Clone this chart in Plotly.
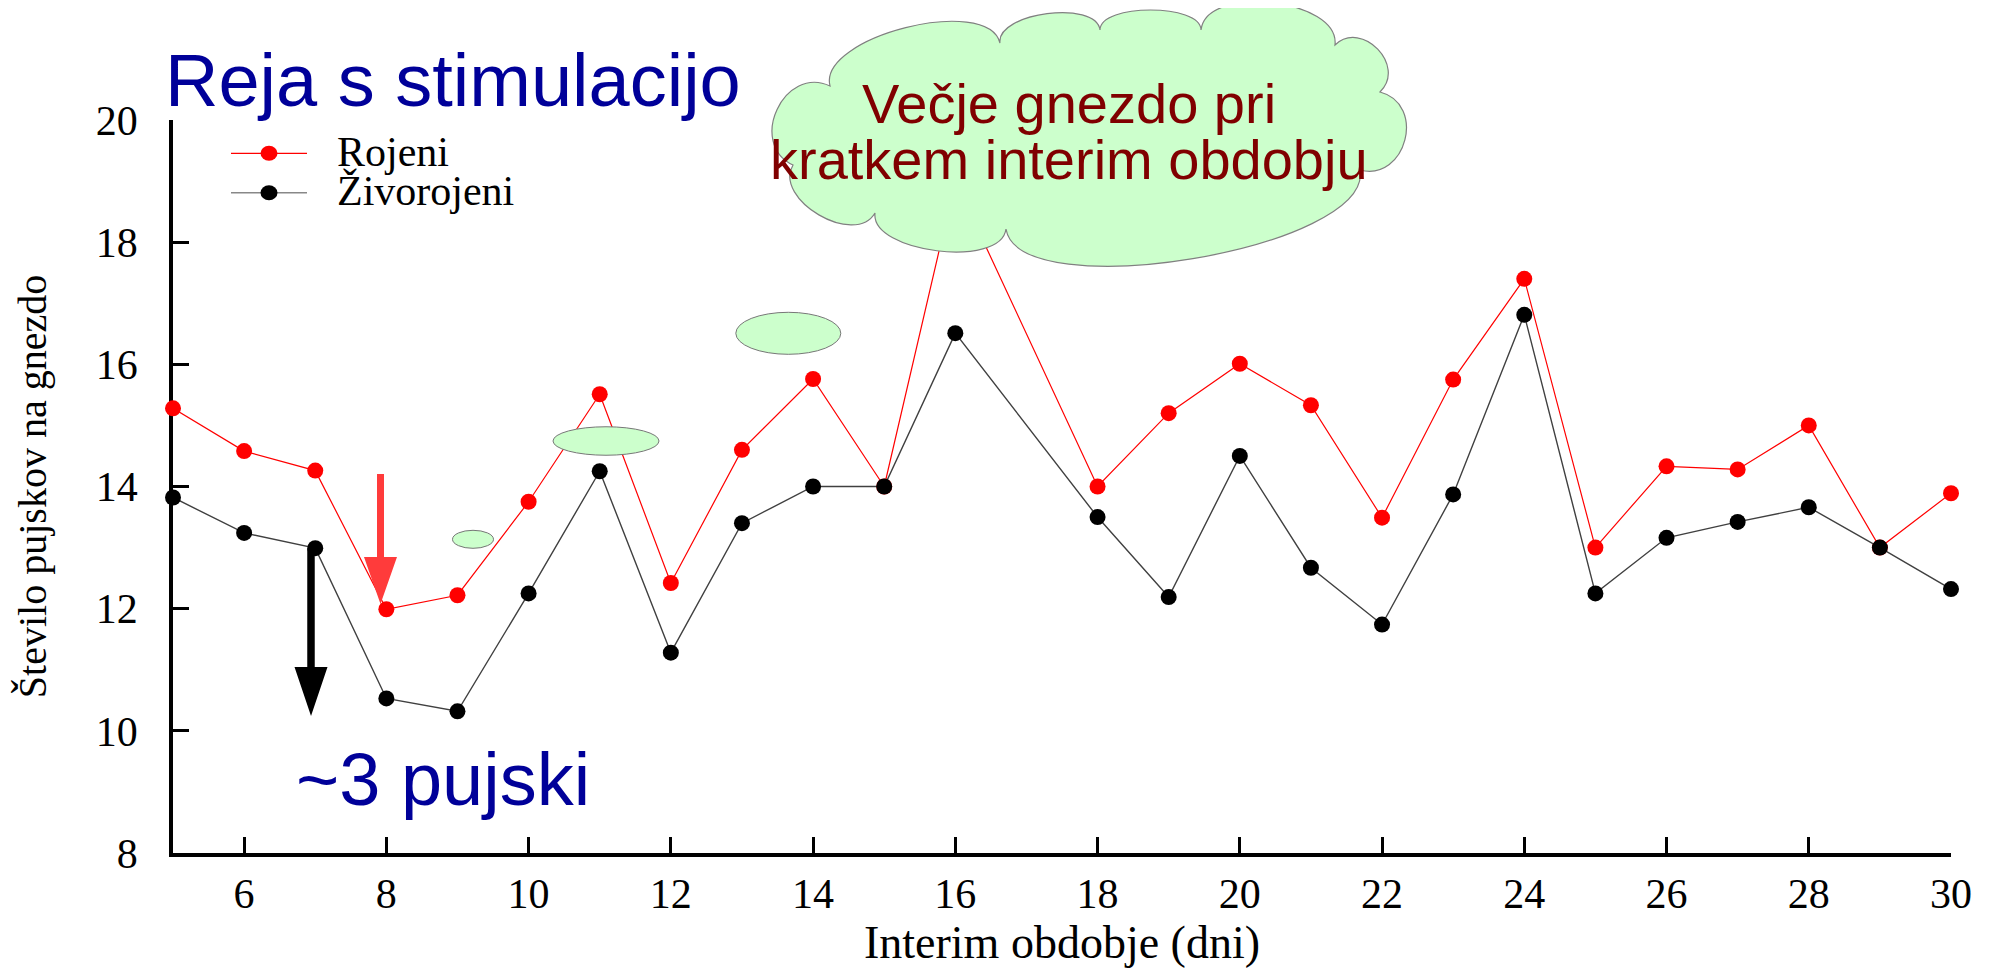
import plotly.graph_objects as go

# ---------------- data ----------------
interim_days = [5, 6, 7, 8, 9, 10, 11, 12, 13, 14, 15, 16, 18, 19, 20, 21, 22, 23, 24, 25, 26, 27, 28, 29, 30]
rojeni = [15.28, 14.58, 14.26, 11.99, 12.22, 13.75, 15.51, 12.42, 14.60, 15.76, 14.00, 19.00, 14.00,
          15.20, 16.01, 15.33, 13.49, 15.75, 17.40, 13.00, 14.33, 14.28, 15.00, 13.00, 13.89]
zivorojeni = [13.82, 13.24, 12.99, 10.53, 10.32, 12.25, 14.25, 11.28, 13.40, 14.00, 14.00, 16.51, 13.50,
              12.19, 14.50, 12.67, 11.74, 13.87, 16.81, 12.25, 13.16, 13.42, 13.66, 13.00, 12.32]
series_names = ["Rojeni", "Živorojeni"]
x_ticks = list(range(6, 31, 2))
y_ticks = list(range(8, 21, 2))

# ---------------- layout geometry ----------------
# page has an 8px body margin; figure sized to fit the 1999x976 window
OFF = 8
W, H = 1983, 960
L, T = 165, 112
PW, PH = 1778, 733
R, B = W - L - PW, H - T - PH


def px(x):
    return (x - OFF - L) / PW


def py(y):
    return (T + PH - (y - OFF)) / PH


SERIF = "Liberation Serif, Times New Roman, serif"
SANS = "Liberation Sans, Arial, sans-serif"

fig = go.Figure()
fig.add_trace(go.Scatter(
    x=interim_days, y=rojeni, mode="lines+markers", name=series_names[0],
    line=dict(color="#ff0000", width=1.2),
    marker=dict(color="#ff0000", size=16), cliponaxis=False, showlegend=False))
fig.add_trace(go.Scatter(
    x=interim_days, y=zivorojeni, mode="lines+markers", name=series_names[1],
    line=dict(color="#404040", width=1.4),
    marker=dict(color="#000000", size=16), cliponaxis=False, showlegend=False))

shapes = []
annotations = []

# ---------------- cloud ----------------
junctions = [(830, 86), (1000, 43), (1100, 30), (1201, 30), (1335, 45), (1380, 92),
             (1360, 170), (1006, 229), (875, 213), (793, 165)]
bulges = [38, 23, 20, 35, 28, 36, 60, 30, 30, 38]
cx, cy = 1090, 135
path = "M %.5f,%.5f" % (px(junctions[0][0]), py(junctions[0][1]))
for i in range(len(junctions)):
    ax_, ay_ = junctions[i]
    bx_, by_ = junctions[(i + 1) % len(junctions)]
    dx, dy = bx_ - ax_, by_ - ay_
    d = (dx * dx + dy * dy) ** 0.5
    nx, ny = -dy / d, dx / d
    mx, my = (ax_ + bx_) / 2, (ay_ + by_) / 2
    if (mx + nx - cx) ** 2 + (my + ny - cy) ** 2 < (mx - cx) ** 2 + (my - cy) ** 2:
        nx, ny = -nx, -ny
    h = bulges[i] / 0.75
    c1 = (ax_ + nx * h, ay_ + ny * h)
    c2 = (bx_ + nx * h, by_ + ny * h)
    path += " C %.5f,%.5f %.5f,%.5f %.5f,%.5f" % (px(c1[0]), py(c1[1]), px(c2[0]), py(c2[1]),
                                                   px(bx_), py(by_))
path += " Z"
shapes.append(dict(type="path", xref="paper", yref="paper", path=path,
                   fillcolor="#ccffcc", line=dict(color="#808080", width=1.2), layer="above"))

# thought bubbles
for (ecx, ecy, ew, eh) in [(473, 539.3, 41, 18), (606, 441, 106, 28.5), (788.3, 333.3, 105, 42)]:
    shapes.append(dict(type="circle", xref="paper", yref="paper",
                       x0=px(ecx - ew / 2), x1=px(ecx + ew / 2),
                       y0=py(ecy + eh / 2), y1=py(ecy - eh / 2),
                       fillcolor="#ccffcc", line=dict(color="#777777", width=1), layer="above"))


# ---------------- arrows ----------------
def arrow_path(xc, ytop, ybase, ytip, shaft_w, head_w):
    p = [(xc - shaft_w / 2, ytop), (xc + shaft_w / 2, ytop), (xc + shaft_w / 2, ybase),
         (xc + head_w / 2, ybase), (xc, ytip), (xc - head_w / 2, ybase), (xc - shaft_w / 2, ybase)]
    return "M " + " L ".join("%.5f,%.5f" % (px(a), py(b)) for a, b in p) + " Z"


shapes.append(dict(type="path", xref="paper", yref="paper",
                   path=arrow_path(380.5, 474, 557, 604, 7, 33),
                   fillcolor="#ff3b3b", line=dict(width=0), layer="above"))
shapes.append(dict(type="path", xref="paper", yref="paper",
                   path=arrow_path(311, 549, 667, 716, 7.5, 33),
                   fillcolor="#000000", line=dict(width=0), layer="above"))

# ---------------- custom legend ----------------
for (ly, lcol, mcol, lw) in [(153.3, "#ff0000", "#ff0000", 1.2), (192.7, "#888888", "#000000", 1.6)]:
    shapes.append(dict(type="line", xref="paper", yref="paper", x0=px(231), x1=px(307),
                       y0=py(ly), y1=py(ly), line=dict(color=lcol, width=lw), layer="above"))
    shapes.append(dict(type="circle", xref="paper", yref="paper",
                       x0=px(269 - 8.5), x1=px(269 + 8.5), y0=py(ly + 7.5), y1=py(ly - 7.5),
                       fillcolor=mcol, line=dict(width=0), layer="above"))
for (txt, ty) in [(series_names[0], 152.5), (series_names[1], 191.5)]:
    annotations.append(dict(text=txt, xref="paper", yref="paper", x=px(335), y=py(ty),
                            xanchor="left", yanchor="middle", showarrow=False,
                            font=dict(family=SERIF, size=42, color="#000000")))

# ---------------- texts ----------------
annotations.append(dict(text="Reja s stimulacijo", xref="paper", yref="paper", x=px(163), y=py(80),
                        xanchor="left", yanchor="middle", showarrow=False,
                        font=dict(family=SANS, size=74, color="#000099")))
annotations.append(dict(text="~3 pujski", xref="paper", yref="paper", x=px(294), y=py(779),
                        xanchor="left", yanchor="middle", showarrow=False,
                        font=dict(family=SANS, size=74, color="#000099")))
annotations.append(dict(text="Večje gnezdo pri", xref="paper", yref="paper", x=px(1069), y=py(103),
                        xanchor="center", yanchor="middle", showarrow=False,
                        font=dict(family=SANS, size=56, color="#800000")))
annotations.append(dict(text="kratkem interim obdobju", xref="paper", yref="paper", x=px(1069), y=py(159),
                        xanchor="center", yanchor="middle", showarrow=False,
                        font=dict(family=SANS, size=56, color="#800000")))

fig.update_layout(
    width=W, height=H,
    margin=dict(l=L, r=R, t=T, b=B, autoexpand=False),
    paper_bgcolor="white", plot_bgcolor="white",
    showlegend=False,
    shapes=shapes, annotations=annotations,
    xaxis=dict(range=[5, 30], tickvals=x_ticks, ticktext=[str(v) for v in x_ticks],
               ticks="inside", ticklen=16, tickwidth=2.5, tickcolor="#000000",
               showline=True, linewidth=3.5, linecolor="#000000", mirror=False,
               showgrid=False, zeroline=False, layer="below traces",
               tickfont=dict(family=SERIF, size=42, color="#000000"), ticklabelstandoff=1,
               title=dict(text="Interim obdobje (dni)", standoff=52,
                          font=dict(family=SERIF, size=46, color="#000000"))),
    yaxis=dict(range=[8, 20], tickvals=y_ticks, ticktext=[str(v) for v in y_ticks],
               ticks="inside", ticklen=16, tickwidth=2.5, tickcolor="#000000",
               showline=True, linewidth=3.5, linecolor="#000000", mirror=False,
               showgrid=False, zeroline=False, layer="below traces",
               tickfont=dict(family=SERIF, size=42, color="#000000"), ticklabelstandoff=23,
               title=dict(text="Število pujskov na gnezdo", standoff=38,
                          font=dict(family=SERIF, size=40, color="#000000"))),
)

fig.write_html("out.html")
